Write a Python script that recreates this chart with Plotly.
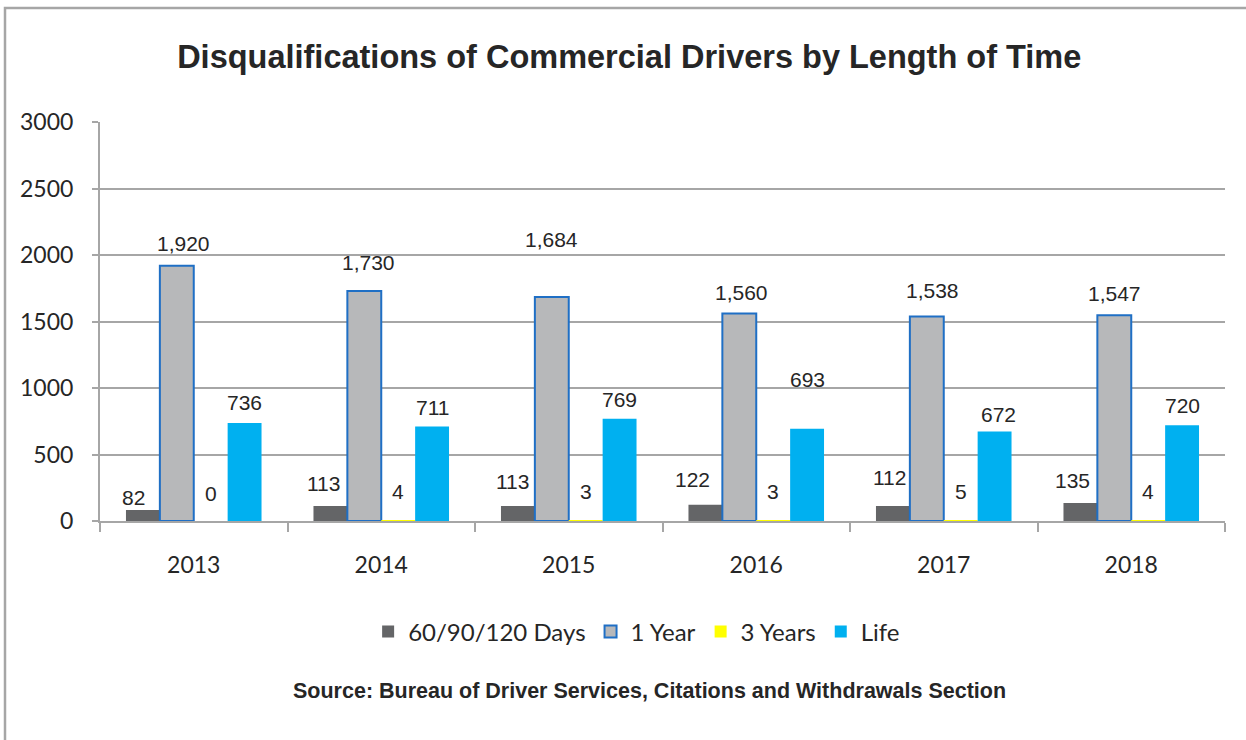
import plotly.graph_objects as go

years = ["2013", "2014", "2015", "2016", "2017", "2018"]
series_names = ["60/90/120 Days", "1 Year", "3 Years", "Life"]
days = [82, 113, 113, 122, 112, 135]
one_year = [1920, 1730, 1684, 1560, 1538, 1547]
three_years = [0, 4, 3, 3, 5, 4]
life = [736, 711, 769, 693, 672, 720]
y_ticks = [0, 500, 1000, 1500, 2000, 2500, 3000]

# label offsets (pixels) as seen in the reference
label_dy = [
    [13, 22, 24, 25, 29, 23],
    [22, 28, 58, 21, 26, 22],
    [28, 29, 29, 29, 29, 29],
    [21, 19, 19, 49, 17, 20],
]
label_dx = [
    [-9, -7, -5, -13, -3, -8],
    [7, 4, 0, 2, 6, 0],
    [0, 0, 0, 0, 0, 0],
    [0, 0, 0, 0, 4, 0],
]

W, H = 1246, 740
ML, MR, MT, MB = 100, 21, 122, 219
BARGAP = 0.277
plot_w = W - ML - MR
plot_h = H - MT - MB
bar_px = plot_w / len(years) * (1 - BARGAP) / len(series_names)

values = [days, one_year, three_years, life]
fills = ["#646567", "#b7b8ba", "#ffff00", "#00b0f0"]
lines = ["#646567", "#1f6fc5", "#ffff00", "#00b0f0"]
lwidth = [0, 2, 0, 0]

fig = go.Figure()
for name, vals, fc, lc, lw in zip(series_names, values, fills, lines, lwidth):
    fig.add_trace(go.Bar(
        x=years, y=vals, name=name,
        marker=dict(color=fc, line=dict(color=lc, width=lw)),
        hoverinfo="skip",
    ))

annotations = []
for i, vals in enumerate(values):
    for j, v in enumerate(vals):
        annotations.append(dict(
            x=j, y=v, xref="x", yref="y",
            text=f"{v:,}", showarrow=False,
            xanchor="center", yanchor="middle",
            xshift=(i - 1.5) * bar_px + label_dx[i][j],
            yshift=label_dy[i][j],
            font=dict(family="Liberation Sans, Arial, sans-serif", size=21, color="#262626"),
        ))

annotations.append(dict(
    x=0.488, y=-0.426, xref="paper", yref="paper",
    text="<b>Source: Bureau of Driver Services, Citations and Withdrawals Section</b>",
    showarrow=False, xanchor="center", yanchor="middle",
    font=dict(family="Liberation Sans Narrow, Arial Narrow, Liberation Sans, sans-serif", size=21.5, color="#262626"),
))

fig.update_layout(
    width=W, height=H,
    margin=dict(l=ML, r=MR, t=MT, b=MB, autoexpand=False),
    paper_bgcolor="white", plot_bgcolor="white",
    barmode="group", bargap=BARGAP, bargroupgap=0,
    title=dict(
        text="<b>Disqualifications of Commercial Drivers by Length of Time</b>",
        x=0.505, xanchor="center", y=1 - 57 / H, yanchor="middle",
        font=dict(family="Liberation Sans Narrow, Arial Narrow, Liberation Sans, sans-serif", size=32.5, color="#262626"),
    ),
    legend=dict(
        orientation="h", x=0.477, xanchor="center", y=-0.278, yanchor="middle",
        font=dict(family="Lato, Carlito, sans-serif", size=24, color="#262626"),
        traceorder="normal",
        bgcolor="rgba(0,0,0,0)",
    ),
    showlegend=True,
    annotations=annotations,
    shapes=[dict(
        type="rect", xref="paper", yref="paper",
        x0=(5 - ML) / plot_w, x1=(1252 - ML) / plot_w,
        y0=-(H + 5 - (H - MB)) / plot_h, y1=((H - MB) - 8) / plot_h,
        line=dict(color="#a6a6a6", width=2.5), fillcolor="rgba(0,0,0,0)", layer="below",
    )],
)

fig.update_yaxes(
    range=[0, 3000], tickvals=y_ticks,
    showgrid=True, gridcolor="#a6a6a6", gridwidth=2,
    showline=True, linecolor="#a6a6a6", linewidth=2,
    ticks="outside", ticklen=6, tickcolor="#a6a6a6", tickwidth=2,
    ticklabelstandoff=14,
    tickfont=dict(family="Lato, Carlito, sans-serif", size=23, color="#262626"),
    zeroline=False,
)
fig.update_xaxes(
    type="category", categoryorder="array", categoryarray=years,
    range=[-0.5, len(years) - 0.5],
    showgrid=False,
    showline=True, linecolor="#a6a6a6", linewidth=2,
    ticks="outside", tickson="boundaries", ticklen=9, tickcolor="#a6a6a6", tickwidth=2,
    ticklabelstandoff=22, tickangle=0,
    tickfont=dict(family="Lato, Carlito, sans-serif", size=23, color="#262626"),
)

fig.write_html("out.html", config={"displayModeBar": False},
               post_script="document.body.style.margin='0';")
